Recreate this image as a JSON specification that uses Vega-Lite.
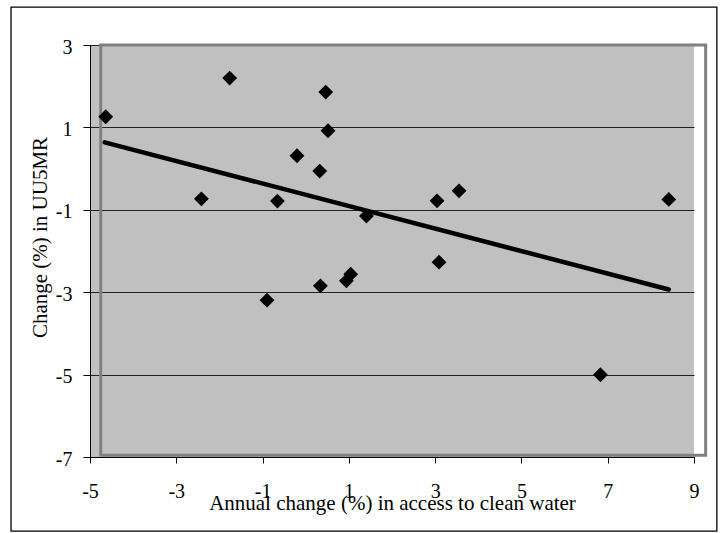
{
  "$schema": "https://vega.github.io/schema/vega-lite/v6.json",
  "width": 604,
  "height": 412,
  "autosize": {"type": "none"},
  "padding": {"left": 90, "top": 45, "right": 33, "bottom": 76},
  "background": "white",
  "config": {
    "view": {"fill": "#c0c0c0", "stroke": null},
    "font": "Liberation Serif",
    "axis": {
      "domainColor": "black",
      "domainWidth": 1,
      "tickColor": "black",
      "tickWidth": 1,
      "labelColor": "black",
      "labelFont": "Liberation Serif",
      "labelFontSize": 20,
      "labelFlush": false,
      "labelOverlap": false,
      "labelExpr": "'' + datum.value",
      "titleColor": "black",
      "titleFont": "Liberation Serif",
      "titleFontSize": 21,
      "titleFontWeight": "normal"
    },
    "axisX": {
      "grid": false,
      "tickSize": 6,
      "labelBaseline": "alphabetic",
      "labelPadding": 34,
      "titleBaseline": "alphabetic",
      "titleY": 52
    },
    "axisY": {
      "grid": true,
      "gridColor": "#222222",
      "gridWidth": 1,
      "tickSize": 7,
      "labelPadding": 11,
      "labelOffset": 2,
      "titleBaseline": "alphabetic",
      "titleAngle": 270,
      "titleAlign": "center",
      "titleX": -44,
      "titleY": 192
    }
  },
  "datasets": {
    "points": [
      {"water": -4.636, "u5mr": 1.258},
      {"water": -1.762, "u5mr": 2.198},
      {"water": 0.464, "u5mr": 1.858},
      {"water": 0.517, "u5mr": 0.918},
      {"water": -0.202, "u5mr": 0.311},
      {"water": 0.325, "u5mr": -0.06},
      {"water": -2.418, "u5mr": -0.733},
      {"water": -0.656, "u5mr": -0.789},
      {"water": 1.407, "u5mr": -1.153},
      {"water": 3.044, "u5mr": -0.782},
      {"water": 3.554, "u5mr": -0.539},
      {"water": 8.415, "u5mr": -0.748},
      {"water": 3.09, "u5mr": -2.271},
      {"water": -0.897, "u5mr": -3.194},
      {"water": 0.341, "u5mr": -2.846},
      {"water": 0.943, "u5mr": -2.725},
      {"water": 1.043, "u5mr": -2.562},
      {"water": 6.831, "u5mr": -5.003}
    ],
    "trend": [
      {"water": -4.659, "u5mr": 0.637},
      {"water": 8.414, "u5mr": -2.934}
    ]
  },
  "layer": [
    {
      "data": {"values": [{}]},
      "mark": {"type": "rect", "fill": null, "stroke": "black", "strokeWidth": 1.3, "clip": false},
      "encoding": {
        "x": {"datum": -6.83, "type": "quantitative", "title": "Annual change (%) in access to clean water", "scale": {"domain": [-5, 9], "nice": false, "zero": false}, "axis": {"values": [-5, -3, -1, 1, 3, 5, 7, 9]}},
        "x2": {"datum": 9.53},
        "y": {"datum": 3.92, "type": "quantitative", "title": "Change (%) in UU5MR", "scale": {"domain": [-7, 3], "nice": false, "zero": false}, "axis": {"values": [3, 1, -1, -3, -5, -7]}},
        "y2": {"datum": -8.8}
      }
    },
    {
      "data": {"values": [{}]},
      "mark": {"type": "rect", "fill": null, "stroke": "#808080", "strokeWidth": 3, "clip": false},
      "encoding": {
        "x": {"datum": -4.752, "type": "quantitative", "title": "Annual change (%) in access to clean water"},
        "x2": {"datum": 9.27},
        "y": {"datum": 3.0, "type": "quantitative", "title": "Change (%) in UU5MR"},
        "y2": {"datum": -6.96}
      }
    },
    {
      "data": {"name": "trend"},
      "mark": {"type": "line", "color": "black", "strokeWidth": 4.5, "strokeCap": "round"},
      "encoding": {
        "x": {"field": "water", "type": "quantitative", "title": "Annual change (%) in access to clean water"},
        "y": {"field": "u5mr", "type": "quantitative", "title": "Change (%) in UU5MR"}
      }
    },
    {
      "data": {"name": "points"},
      "mark": {"type": "point", "shape": "diamond", "filled": true, "color": "black", "opacity": 1, "size": 220},
      "encoding": {
        "x": {"field": "water", "type": "quantitative", "title": "Annual change (%) in access to clean water"},
        "y": {"field": "u5mr", "type": "quantitative", "title": "Change (%) in UU5MR"}
      }
    }
  ]
}
